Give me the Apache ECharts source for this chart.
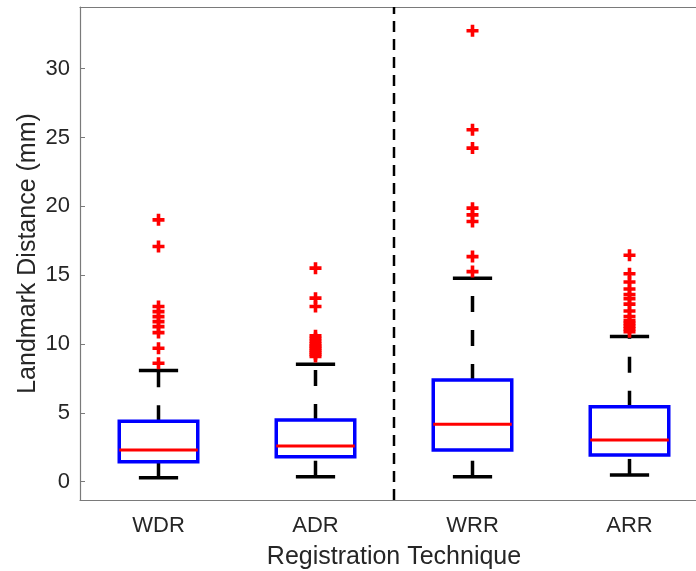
<!DOCTYPE html>
<html>
<head>
<meta charset="utf-8">
<script src="https://cdn.jsdelivr.net/npm/echarts@6/dist/echarts.min.js"></script>
<style>
  html, body { margin: 0; padding: 0; background: #fff; }
  #chart { width: 696px; height: 571px; }
</style>
</head>
<body>
<div id="chart"></div>
<script>
// 类别
var categories = ['WDR', 'ADR', 'WRR', 'ARR'];
// 箱线: [下须, Q1, 中位数, Q3, 上须]
var whiskerLow = [0.29, 0.36, 0.36, 0.49];
var quart1 = [1.45, 1.82, 2.30, 1.94];
var medians = [2.30, 2.59, 4.17, 3.03];
var quart3 = [4.39, 4.48, 7.39, 5.45];
var whiskerHigh = [8.07, 8.53, 14.78, 10.54];
// 离群点
var wdrOutliers = [19.02, 17.08, 12.72, 12.35, 11.99, 11.63, 11.26, 10.83, 9.69, 8.60];
var adrOutliers = [15.51, 13.33, 12.72, 10.6, 10.4, 10.2, 10.0, 9.85, 9.7, 9.55, 9.4, 9.25, 9.1];
var wrrOutliers = [32.75, 25.56, 24.23, 19.87, 19.38, 18.90, 16.35, 15.26];
var arrOutliers = [16.45, 15.1, 14.5, 14.0, 13.6, 13.3, 12.9, 12.4, 12.0, 11.7, 11.5, 11.3, 11.1, 10.9];
// 坐标轴
var yTicks = [0, 5, 10, 15, 20, 25, 30];
var yRange = [-1.33, 34.48];
var dividerPos = [1.5];

var textColor = '#262626';
var axisColor = '#7a7a7a';
var font = 'Liberation Sans, Arial, Helvetica, sans-serif';

var boxData = categories.map(function (c, i) {
  return [i, whiskerLow[i], quart1[i], medians[i], quart3[i], whiskerHigh[i]];
});
var outlierData = [];
[wdrOutliers, adrOutliers, wrrOutliers, arrOutliers].forEach(function (arr, i) {
  arr.forEach(function (v) { outlierData.push([i, v]); });
});

function renderBox(params, api) {
  var x = api.value(0);
  var lo = api.coord([x, api.value(1)]);
  var q1 = api.coord([x, api.value(2)]);
  var md = api.coord([x, api.value(3)]);
  var q3 = api.coord([x, api.value(4)]);
  var hi = api.coord([x, api.value(5)]);
  var band = api.size([1, 0])[0];
  var hw = band * 0.25, cw = band * 0.125;
  var whiskerStyle = { stroke: '#000', lineWidth: 3.5, lineDash: [16, 18], fill: null };
  var capStyle = { stroke: '#000', lineWidth: 3.5, fill: null };
  return {
    type: 'group',
    children: [
      { type: 'line', shape: { x1: lo[0], y1: lo[1], x2: q1[0], y2: q1[1] }, style: whiskerStyle },
      { type: 'line', shape: { x1: q3[0], y1: q3[1], x2: hi[0], y2: hi[1] }, style: whiskerStyle },
      { type: 'line', shape: { x1: lo[0] - cw, y1: lo[1], x2: lo[0] + cw, y2: lo[1] }, style: capStyle },
      { type: 'line', shape: { x1: hi[0] - cw, y1: hi[1], x2: hi[0] + cw, y2: hi[1] }, style: capStyle },
      { type: 'rect', shape: { x: q3[0] - hw, y: q3[1], width: hw * 2, height: q1[1] - q3[1] },
        style: { stroke: '#0000ff', lineWidth: 3.5, fill: null } },
      { type: 'line', shape: { x1: md[0] - hw, y1: md[1], x2: md[0] + hw, y2: md[1] },
        style: { stroke: '#ff0000', lineWidth: 3 } }
    ]
  };
}

var myChart = echarts.init(document.getElementById('chart'));
var option = {
  animation: false,
  backgroundColor: '#fff',
  grid: { left: 80, top: 7, bottom: 71, right: -12, outerBoundsMode: 'none', containLabel: false },
  xAxis: [
    {
      type: 'category',
      data: categories,
      position: 'bottom',
      name: 'Registration Technique',
      nameLocation: 'middle',
      nameGap: 45,
      nameTextStyle: { color: textColor, fontSize: 25, fontFamily: font },
      axisLine: { onZero: false, lineStyle: { color: axisColor, width: 1.2 } },
      axisTick: { alignWithLabel: true, inside: true, length: 6, lineStyle: { color: axisColor } },
      axisLabel: { color: textColor, fontSize: 22, fontFamily: font, margin: 15 },
      splitLine: { show: false }
    },
    {
      type: 'category',
      data: categories,
      position: 'top',
      axisLine: { onZero: false, lineStyle: { color: axisColor, width: 1.2 } },
      axisTick: { alignWithLabel: true, inside: true, length: 6, lineStyle: { color: axisColor } },
      axisLabel: { show: false },
      splitLine: { show: false }
    },
    {
      type: 'value',
      min: -0.5,
      max: 3.5,
      show: false
    }
  ],
  yAxis: {
    type: 'value',
    min: yRange[0],
    max: yRange[1],
    name: 'Landmark Distance (mm)',
    nameLocation: 'middle',
    nameGap: 39,
    nameMoveOverlap: false,
    nameTextStyle: { color: textColor, fontSize: 25, fontFamily: font },
    axisLine: { show: true, onZero: false, lineStyle: { color: axisColor, width: 1.2 } },
    axisTick: { show: true, inside: true, length: 5, customValues: yTicks, lineStyle: { color: axisColor } },
    axisLabel: { color: textColor, fontSize: 22, fontFamily: font, margin: 10, customValues: yTicks },
    splitLine: { show: false }
  },
  series: [
    {
      type: 'line',
      xAxisIndex: 2,
      data: [[dividerPos[0], yRange[0]], [dividerPos[0], yRange[1]]],
      symbol: 'none',
      lineStyle: { color: '#000', width: 2.5, type: [11, 7] },
      silent: true
    },
    {
      type: 'custom',
      xAxisIndex: 0,
      renderItem: renderBox,
      data: boxData,
      z: 3
    },
    {
      type: 'scatter',
      xAxisIndex: 0,
      data: outlierData,
      symbol: 'path://M3.5,0H6.5V3.5H10V6.5H6.5V10H3.5V6.5H0V3.5H3.5Z',
      symbolSize: 12,
      itemStyle: { color: '#ff0000', opacity: 1 },
      z: 4
    }
  ]
};
myChart.setOption(option);
window.addEventListener('resize', function () {
  myChart.resize();
});
</script>
</body>
</html>
